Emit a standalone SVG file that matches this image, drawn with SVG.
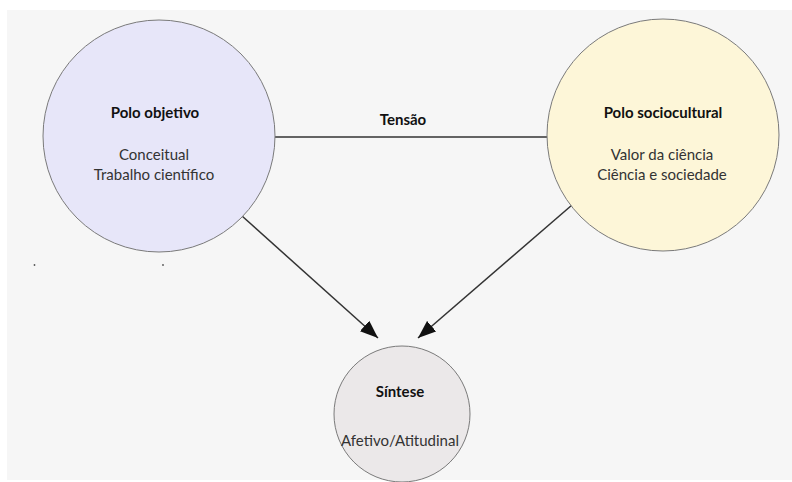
<svg xmlns="http://www.w3.org/2000/svg" width="792" height="482" viewBox="0 0 792 482">
<defs>
<marker id="ah" viewBox="0 0 18 14" refX="18" refY="7" markerWidth="18" markerHeight="14" markerUnits="userSpaceOnUse" orient="auto">
<path d="M0,0 L18,7 L0,14 Z" fill="#111"/>
</marker>
</defs>
<style>
.node{stroke:#7a7a7a;stroke-width:1}
.t{font-family:Lato,"Open Sans","Liberation Sans",sans-serif;font-size:15px;fill:#333;text-anchor:middle}
.b{font-weight:bold;fill:#111}
.c{stroke:#333;stroke-width:1.5;fill:none}
</style>
<rect x="0" y="0" width="792" height="482" fill="#ffffff"/>
<rect x="7" y="10" width="785" height="470" fill="#f6f6f6"/>
<g id="connectors">
<line class="c" x1="275" y1="137" x2="547" y2="137"/>
<text class="t b" x="403" y="125">Tensão</text>
<line class="c" x1="242" y1="216" x2="378" y2="338" marker-end="url(#ah)"/>
<line class="c" x1="572" y1="205" x2="418" y2="338" marker-end="url(#ah)"/>
</g>
<g id="polo-objetivo">
<circle class="node" cx="159" cy="136" r="116" fill="#e7e6f9"/>
<text class="t b" x="155" y="118">Polo objetivo</text>
<text class="t" x="154" y="160">Conceitual</text>
<text class="t" x="154" y="180">Trabalho científico</text>
</g>
<g id="polo-sociocultural">
<circle class="node" cx="663" cy="135" r="116" fill="#fdf6d8"/>
<text class="t b" x="663" y="118">Polo sociocultural</text>
<text class="t" x="662" y="160">Valor da ciência</text>
<text class="t" x="662" y="180">Ciência e sociedade</text>
</g>
<g id="sintese">
<circle class="node" cx="402" cy="414" r="68" fill="#ebe8e9"/>
<text class="t b" x="400" y="397">Síntese</text>
<text class="t" x="400" y="446">Afetivo/Atitudinal</text>
</g>
<g id="marks" fill="#555">
<circle cx="34.5" cy="265" r="0.9"/>
<circle cx="163" cy="265" r="0.9"/>
</g>
</svg>
